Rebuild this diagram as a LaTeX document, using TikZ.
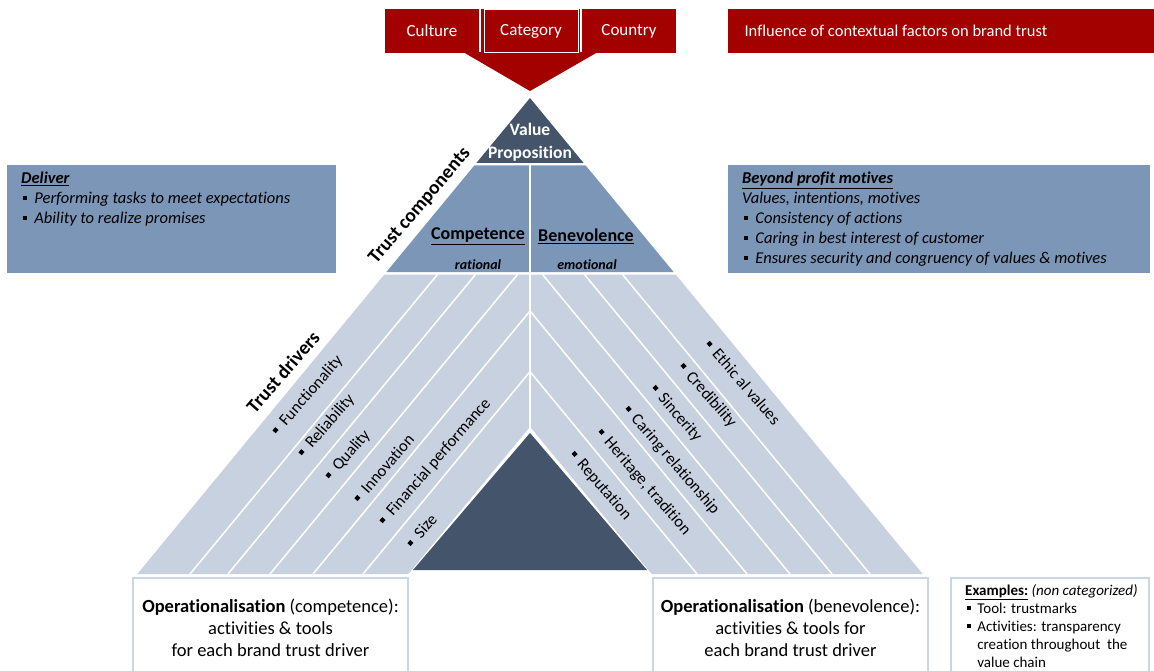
\documentclass[tikz,border=0pt]{standalone}
\usepackage{fontspec}
\setmainfont{Carlito}[Ligatures=NoCommon]
\usepackage{tikz}
\usetikzlibrary{calc}
\definecolor{trustred}{RGB}{163,0,0}
\definecolor{valuedark}{RGB}{68,84,106}
\definecolor{compblue}{RGB}{124,150,184}
\definecolor{driverlight}{RGB}{200,209,223}
\definecolor{opline}{RGB}{205,213,226}
\newcommand{\sqb}{\hspace*{1.5pt}\raisebox{0.22em}{\rule{0.26em}{0.26em}}\hspace{0.45em}}

\begin{document}
\begin{tikzpicture}[x=1pt,y=-1pt,
    redtxt/.style={text=white,font=\fontsize{17}{20}\selectfont},
    infotxt/.style={anchor=north west,inner sep=0pt,align=left,font=\fontsize{16.5}{20}\selectfont\itshape},
    drvtxt/.style={anchor=west,inner sep=0pt,font=\fontsize{16.5}{20}\selectfont},
    sidetxt/.style={font=\fontsize{19.5}{22}\selectfont\bfseries},
    comptxt/.style={font=\fontsize{18}{20}\selectfont\bfseries},
    moodtxt/.style={font=\fontsize{14}{16}\selectfont\bfseries\itshape},
    opbox/.style={draw=opline,line width=1.2pt,fill=white},
    optxt/.style={align=center,font=\fontsize{18.5}{22}\selectfont}]
    \useasboundingbox (0,0) rectangle (1154,671);

    % contextual factors
    \fill[trustred] (463,52) -- (598,52) -- (530,91) -- cycle;
    \fill[trustred] (385,9) rectangle (479,53);
    \fill[trustred] (481,9) rectangle (580,53);
    \draw[white,line width=1pt] (484,10) rectangle (578,53);
    \fill[trustred] (582,9) rectangle (676,53);
    \node[redtxt] (culture) at (432,31) {Culture};
    \node[redtxt] (category) at (531,31) {Category};
    \node[redtxt] (country) at (629,31) {Country};
    \fill[trustred] (728,9) rectangle (1154,53);
    \node[redtxt,anchor=west,font=\fontsize{16.5}{20}\selectfont] (influence) at (741,31) {Influence of contextual factors on brand trust};

    % pyramid
    \fill[valuedark] (530,98) -- (583.6,163) -- (476.4,163) -- cycle;
    \fill[compblue] (474.3,165.5) -- (585.7,165.5) -- (673.6,272) -- (386.4,272) -- cycle;
    \draw[white,line width=1.5pt] (530,165) -- (530,272);
    \fill[driverlight] (384.4,274.5) -- (675.6,274.5) -- (922.7,574) -- (137.3,574) -- cycle;
    \draw[white,line width=1.5pt] (530,274) -- (530,430);
    \draw[white,line width=1.5pt] (190,574) -- (437.5,274.5);
    \draw[white,line width=1.5pt] (228,574) -- (475.5,274.5);
    \draw[white,line width=1.5pt] (270,574) -- (517.5,274.5);
    \draw[white,line width=1.5pt] (313,574) -- (530,311);
    \draw[white,line width=1.5pt] (363,574) -- (530,371.6);
    \draw[white,line width=1.5pt] (870,574) -- (622.5,274.5);
    \draw[white,line width=1.5pt] (832,574) -- (584.5,274.5);
    \draw[white,line width=1.5pt] (790,574) -- (542.5,274.5);
    \draw[white,line width=1.5pt] (747,574) -- (530,311);
    \draw[white,line width=1.5pt] (697,574) -- (530,371.6);
    \fill[white] (530,427) -- (654,577) -- (406,577) -- cycle;
    \fill[valuedark] (530,433) -- (647,570) -- (413,570) -- cycle;

    \node[align=center,text=white,font=\fontsize{17.5}{23}\selectfont\bfseries] (value) at (530,142) {Value\\Proposition};
    \node[comptxt] (competence) at (478,236) {\underline{Competence}};
    \node[moodtxt] (rational) at (478,265) {rational};
    \node[comptxt] (benevolence) at (586,236) {\underline{Benevolence}};
    \node[moodtxt] (emotional) at (587,265) {emotional};
    \node[sidetxt,rotate=49.5] (components) at (420,206) {Trust components};
    \node[sidetxt,rotate=49] (drivers) at (283,372) {Trust drivers};

    % trust drivers
    \node[drvtxt,rotate=49] (functionality) at (274,434) {\sqb Functionality};
    \node[drvtxt,rotate=49] (reliability) at (300,456) {\sqb Reliability};
    \node[drvtxt,rotate=49] (quality) at (327,479) {\sqb Quality};
    \node[drvtxt,rotate=49] (innovation) at (355,501) {\sqb Innovation};
    \node[drvtxt,rotate=49] (financial) at (381,524) {\sqb Financial performance};
    \node[drvtxt,rotate=49] (size) at (408,546) {\sqb Size};
    \node[drvtxt,rotate=-49] (ethical) at (707,341) {\sqb Ethic al values};
    \node[drvtxt,rotate=-49] (credibility) at (680,364) {\sqb Credibility};
    \node[drvtxt,rotate=-49] (sincerity) at (652,386) {\sqb Sincerity};
    \node[drvtxt,rotate=-49] (caring) at (625,407) {\sqb Caring relationship};
    \node[drvtxt,rotate=-49] (heritage) at (598,430) {\sqb Heritage, tradition};
    \node[drvtxt,rotate=-49] (reputation) at (571,452) {\sqb Reputation};

    % side boxes
    \fill[compblue] (7,165) rectangle (336,273);
    \node[infotxt] (deliver) at (21,172) {\underline{\textbf{Deliver}}\\
        \sqb Performing tasks to meet expectations\\
        \sqb Ability to realize promises};
    \fill[compblue] (728,165) rectangle (1150,273);
    \node[infotxt] (beyond) at (742,172) {\underline{\textbf{Beyond profit motives}}\\
        Values, intentions, motives\\
        \sqb Consistency of actions\\
        \sqb Caring in best interest of customer\\
        \sqb Ensures security and congruency of values \& motives};

    % operationalisation
    \draw[opbox] (133,578) rectangle (408,690);
    \node[optxt] (opcomp) at (270.5,628) {\textbf{Operationalisation} (competence):\\activities \& tools\\for each brand trust driver};
    \draw[opbox] (653,578) rectangle (928,690);
    \node[optxt] (opbene) at (790.5,628) {\textbf{Operationalisation} (benevolence):\\activities \& tools for\\each brand trust driver};
    \draw[opbox] (951,578) rectangle (1149,690);
    \node[anchor=north west,inner sep=0pt,align=left,font=\fontsize{15}{18}\selectfont] (examples) at (965,584) {\underline{\textbf{Examples:}} \textit{(non categorized)}\\
        \sqb Tool: trustmarks\\
        \sqb Activities: transparency\\
        \phantom{\sqb}creation throughout\ \ the\\
        \phantom{\sqb}value chain};
\end{tikzpicture}
\end{document}
